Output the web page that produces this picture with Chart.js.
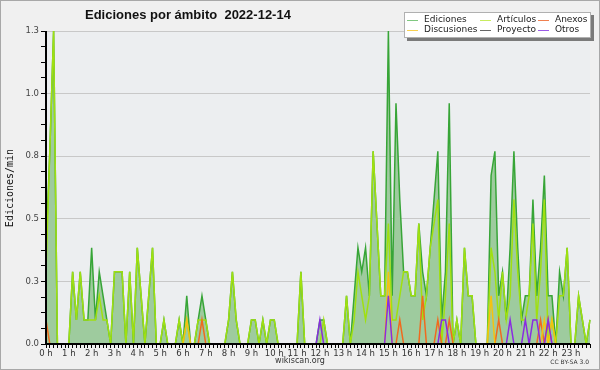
<!DOCTYPE html>
<html><head><meta charset="utf-8">
<script src="https://cdn.jsdelivr.net/npm/chart.js@4.4.0/dist/chart.umd.min.js"></script>
<style>html,body{margin:0;padding:0;background:#f0f0f0;}#wrap{width:600px;height:370px;}</style>
</head><body><div id="wrap"><canvas id="c" width="600" height="370"></canvas></div>
<script>
const hourLabels = ["0 h","1 h","2 h","3 h","4 h","5 h","6 h","7 h","8 h","9 h","10 h","11 h",
  "12 h","13 h","14 h","15 h","16 h","17 h","18 h","19 h","20 h","21 h","22 h","23 h"];
const times = [];
for (let h = 0; h < 24; h++) for (let m = 0; m < 60; m += 10)
  times.push(String(h).padStart(2,"0") + ":" + String(m).padStart(2,"0"));

const ediciones = [
  0.4,0.8,1.3,0,0,0,0,0.3,0.1,0.3,0.1,0.1,
  0.4,0.1,0.3,0.2,0.1,0,0.3,0.3,0.3,0,0.3,0,
  0.4,0.2,0,0.2,0.4,0,0,0.1,0,0,0,0.1,
  0,0.2,0,0,0.1,0.2,0.1,0,0,0,0,0,
  0.1,0.3,0.1,0,0,0,0.1,0.1,0,0.1,0,0.1,
  0.1,0,0,0,0,0,0,0.3,0,0,0,0,
  0.1,0.1,0,0,0,0,0,0.2,0,0.2,0.4,0.3,
  0.4,0.2,0.8,0.5,0.2,0.2,1.3,0.2,1.0,0.6,0.3,0.3,
  0.2,0.2,0.5,0.3,0.2,0.4,0.6,0.8,0.1,0.3,1.0,0,
  0.1,0,0.4,0.2,0.2,0,0,0,0,0.7,0.8,0.2,
  0.3,0.1,0.4,0.8,0.4,0.1,0.2,0.2,0.6,0.2,0.4,0.7,
  0.2,0.2,0,0.3,0.2,0.4,0,0,0.2,0.1,0,0.1
];
const articulos = [
  0.3,0.8,1.3,0,0,0,0,0.3,0.1,0.3,0.1,0.1,
  0.1,0.1,0.2,0.1,0.1,0,0.3,0.3,0.3,0,0.3,0,
  0.4,0.2,0,0.2,0.4,0,0,0.1,0,0,0,0.1,
  0,0.1,0,0,0.1,0.1,0.1,0,0,0,0,0,
  0.1,0.3,0.1,0,0,0,0.1,0.1,0,0.1,0,0.1,
  0.1,0,0,0,0,0,0,0.3,0,0,0,0,
  0,0.1,0,0,0,0,0,0.2,0,0.1,0.3,0.2,
  0.1,0.2,0.8,0.5,0.2,0.2,0.5,0.1,0.1,0.2,0.3,0.3,
  0.2,0.2,0.5,0.1,0.2,0.4,0.5,0.6,0,0.2,0.5,0,
  0.1,0,0.4,0.2,0.2,0,0,0,0,0.4,0.3,0.1,
  0.3,0.1,0.2,0.6,0.3,0.1,0.1,0.2,0.5,0.1,0.3,0.6,
  0,0.1,0,0.2,0.2,0.4,0,0,0.2,0.1,0,0.1
];
const anexos = [
  0.1,0,0,0,0,0,0,0,0,0,0,0,
  0,0,0,0,0,0,0,0,0,0,0,0,
  0,0,0,0,0,0,0,0,0,0,0,0,
  0,0,0,0,0,0.1,0,0,0,0,0,0,
  0,0,0,0,0,0,0,0,0,0,0,0,
  0,0,0,0,0,0,0,0,0,0,0,0,
  0,0,0,0,0,0,0,0,0,0,0,0,
  0,0,0,0,0,0,0,0,0,0.1,0,0,
  0,0,0,0.2,0,0,0,0.1,0,0,0.1,0,
  0,0,0,0,0,0,0,0,0,0,0,0.1,
  0,0,0,0,0,0,0,0,0,0,0.1,0,
  0.1,0,0,0,0,0,0,0,0,0,0,0
];
const discusiones = [
  0,0,0,0,0,0,0,0,0,0,0,0,
  0,0,0,0,0,0,0,0,0,0,0,0,
  0,0,0,0,0,0,0,0,0,0,0,0,
  0,0.1,0,0,0,0,0,0,0,0,0,0,
  0,0,0,0,0,0,0,0,0,0,0,0,
  0,0,0,0,0,0,0,0,0,0,0,0,
  0,0,0,0,0,0,0,0,0,0,0,0,
  0,0,0,0,0,0,0.3,0,0,0,0,0,
  0,0,0,0,0,0,0,0,0,0,0,0,
  0,0,0,0,0,0,0,0,0,0.2,0,0,
  0,0,0,0,0,0,0,0,0,0,0,0.1,
  0,0.1,0,0,0,0,0,0,0,0,0,0
];
const proyecto = [
  0,0,0,0,0,0,0,0,0,0,0,0, 0,0,0,0,0,0,0,0,0,0,0,0,
  0,0,0,0,0,0,0,0,0,0,0,0, 0,0,0,0,0,0,0,0,0,0,0,0,
  0,0,0,0,0,0,0,0,0,0,0,0, 0,0,0,0,0,0,0,0,0,0,0,0,
  0,0,0,0,0,0,0,0,0,0,0,0, 0,0,0,0,0,0,0,0,0,0,0,0,
  0,0,0,0,0,0,0,0,0,0,0,0, 0,0,0,0,0,0,0,0,0,0,0,0,
  0,0,0,0,0,0,0,0,0,0,0,0, 0,0,0,0,0,0,0,0,0,0,0,0
];
const otros = [
  0,0,0,0,0,0,0,0,0,0,0,0,
  0,0,0,0,0,0,0,0,0,0,0,0,
  0,0,0,0,0,0,0,0,0,0,0,0,
  0,0,0,0,0,0,0,0,0,0,0,0,
  0,0,0,0,0,0,0,0,0,0,0,0,
  0,0,0,0,0,0,0,0,0,0,0,0,
  0.1,0,0,0,0,0,0,0,0,0,0,0,
  0,0,0,0,0,0,0.2,0,0,0,0,0,
  0,0,0,0,0,0,0,0,0.1,0.1,0,0,
  0,0,0,0,0,0,0,0,0,0,0,0,
  0,0,0.1,0,0,0,0.1,0,0.1,0.1,0,0,
  0.1,0,0,0,0,0,0,0,0,0,0,0
];
const yMax = 1.3;
const yTickCount = 20;

const seriesNames = ["Ediciones","Artículos","Anexos","Discusiones","Proyecto","Otros"];
const lineColors = ["#37a537","#a0e010","#f06a1e","#f5c20f","#555555","#8a2be2"];
const legendColors = ["#80c880","#c8ec60","#f08050","#f8d050","#666666","#9a5ae6"];

const deco = {
  id: "deco",
  beforeDraw(chart) {
    const c = chart.ctx, a = chart.chartArea;
    c.save();
    c.fillStyle = "#f0f0f0";
    c.fillRect(0, 0, chart.width, chart.height);
    c.fillStyle = "#eceef0";
    c.fillRect(a.left, a.top, a.right - a.left, a.bottom - a.top);
    c.strokeStyle = "#a8a8a8";
    c.lineWidth = 1;
    c.strokeRect(0.5, 0.5, chart.width - 1, chart.height - 1);
    c.restore();
  },
  afterDatasetsDraw(chart) {
    const c = chart.ctx, a = chart.chartArea;
    c.save();
    // axes
    c.strokeStyle = "#000";
    c.lineWidth = 2;
    c.beginPath();
    c.moveTo(a.left, a.top);
    c.lineTo(a.left, a.bottom);
    c.lineTo(a.right, a.bottom);
    c.stroke();
    // title
    c.fillStyle = "#111";
    c.font = "bold 13px 'Liberation Sans'";
    c.textAlign = "left"; c.textBaseline = "alphabetic";
    c.fillText("Ediciones por ámbito  2022-12-14", 85, 19);
    // y title
    c.save();
    c.translate(10, 188);
    c.rotate(-Math.PI / 2);
    c.font = "10px 'DejaVu Sans Mono'";
    c.textAlign = "center"; c.textBaseline = "middle";
    c.fillStyle = "#111";
    c.fillText("Ediciones/min", 0, 0);
    c.restore();
    // footer
    c.font = "8px 'DejaVu Sans'";
    c.fillStyle = "#333";
    c.textAlign = "center"; c.textBaseline = "middle";
    c.fillText("wikiscan.org", 300, 361);
    c.font = "6px 'DejaVu Sans'";
    c.textAlign = "right";
    c.fillText("CC BY-SA 3.0", 589, 362);
    // legend
    const bx = 404, by = 12, bw = 187, bh = 26;
    c.fillStyle = "#7a7a7a";
    c.fillRect(bx + 3, by + 3, bw, bh);
    c.fillStyle = "#ffffff";
    c.fillRect(bx, by, bw, bh);
    c.strokeStyle = "#b0b0b0";
    c.lineWidth = 1;
    c.strokeRect(bx + 0.5, by + 0.5, bw - 1, bh - 1);
    const cols = [[407, 424], [480, 497], [538, 555]];
    const rows = [19.5, 29.5];
    const order = [[0, 1, 2], [3, 4, 5]];
    c.font = "9px 'DejaVu Sans'";
    c.textAlign = "left"; c.textBaseline = "middle";
    for (let r = 0; r < 2; r++) for (let k = 0; k < 3; k++) {
      const s = order[r][k];
      c.strokeStyle = legendColors[s];
      c.lineWidth = 1;
      c.beginPath();
      c.moveTo(cols[k][0], Math.round(rows[r]) + 0.5);
      c.lineTo(cols[k][0] + 11, Math.round(rows[r]) + 0.5);
      c.stroke();
      c.fillStyle = "#222";
      c.fillText(seriesNames[s], cols[k][1], rows[r]);
    }
    c.restore();
  }
};

const allSeries = [ediciones, articulos, anexos, discusiones, proyecto, otros];
const datasets = allSeries.map((d, s) => ({
  label: seriesNames[s],
  data: d,
  borderColor: lineColors[s],
  borderWidth: 1.5,
  backgroundColor: s === 0 ? "#9ecb9e" : "transparent",
  fill: s === 0 ? "origin" : false,
  pointRadius: 0,
  tension: 0,
  order: 10 - (s === 0 ? 0 : s === 1 ? 1 : 2 + s)
}));

new Chart(document.getElementById("c"), {
  type: "line",
  data: { labels: times, datasets },
  options: {
    responsive: false,
    animation: false,
    devicePixelRatio: 1,
    layout: { padding: { top: 31, right: 10, left: 0, bottom: 0 } },
    plugins: { legend: { display: false }, tooltip: { enabled: false }, title: { display: false } },
    scales: {
      x: {
        type: "category",
        offset: false,
        afterFit(scale) { scale.height = 26; },
        grid: { drawOnChartArea: false, drawTicks: true, tickLength: 4, tickColor: "#000", color: "#000" },
        border: { display: false },
        ticks: {
          autoSkip: false, maxRotation: 0, minRotation: 0, padding: 1,
          font: { family: "DejaVu Sans", size: 8.5 }, color: "#333",
          callback: (v, i) => (i % 6 === 0 ? hourLabels[i / 6] : "")
        }
      },
      y: {
        min: 0, max: yMax,
        afterFit(scale) { scale.width = 46; },
        afterBuildTicks(scale) {
          const t = [];
          for (let k = 0; k <= yTickCount; k++) t.push({ value: k * yMax / yTickCount });
          scale.ticks = t;
        },
        grid: {
          color: (ctx) => (ctx.index % 4 === 0 && ctx.index > 0 ? "#c8c8c8" : "rgba(0,0,0,0)"),
          tickColor: "#000", tickLength: 5, drawTicks: true
        },
        border: { display: false },
        ticks: {
          padding: 2,
          font: { family: "DejaVu Sans", size: 8.5 }, color: "#444",
          callback: (v, i) => (i % 4 === 0 ? v.toFixed(1) : "")
        }
      }
    }
  },
  plugins: [deco]
});
</script></body></html>
